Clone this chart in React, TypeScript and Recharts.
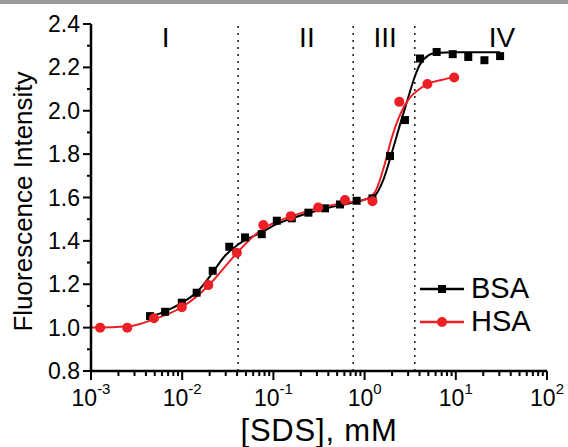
import React from 'react';
import {
  ComposedChart,
  Line,
  Scatter,
  XAxis,
  YAxis,
  ReferenceLine,
  ReferenceDot,
} from 'recharts';

// measured points
const bsaConc = [0.00444, 0.0065, 0.0099, 0.0144, 0.0216, 0.0328, 0.0489, 0.0745, 0.109, 0.159, 0.242, 0.368, 0.537, 0.818, 1.22, 1.9, 2.77, 4.05, 6.17, 9.25, 13.7, 20.6, 30.6];
const bsaValues = [1.053, 1.073, 1.115, 1.161, 1.262, 1.373, 1.416, 1.431, 1.493, 1.504, 1.53, 1.55, 1.568, 1.585, 1.596, 1.791, 1.957, 2.241, 2.271, 2.261, 2.248, 2.233, 2.252];
const hsaConc = [0.00126, 0.0025, 0.0049, 0.0099, 0.0193, 0.0397, 0.0776, 0.155, 0.31, 0.61, 1.22, 2.4, 4.88, 9.6];
const hsaValues = [1.0, 1.0, 1.043, 1.094, 1.196, 1.345, 1.473, 1.514, 1.554, 1.588, 1.583, 2.041, 2.123, 2.153];

// fitted curves
const bsaFitConc = [0.00444, 0.0065, 0.01, 0.015, 0.02, 0.03, 0.04, 0.05, 0.075, 0.1, 0.15, 0.25, 0.4, 0.6, 1.0, 1.3, 1.6, 2.0, 2.5, 3.0, 3.5, 4.0, 5.0, 6.0, 10, 30.6];
const bsaFitValues = [1.05, 1.075, 1.115, 1.17, 1.235, 1.335, 1.38, 1.405, 1.44, 1.47, 1.5, 1.53, 1.553, 1.568, 1.59, 1.61, 1.68, 1.81, 1.95, 2.06, 2.15, 2.21, 2.255, 2.266, 2.27, 2.27];
const hsaFitConc = [0.001, 0.0025, 0.005, 0.01, 0.02, 0.03, 0.04, 0.06, 0.08, 0.15, 0.3, 0.6, 1.0, 1.3, 1.6, 2.0, 2.5, 3.0, 4.0, 5.0, 7.0, 9.6];
const hsaFitValues = [1.0, 1.005, 1.04, 1.095, 1.2, 1.285, 1.345, 1.42, 1.46, 1.51, 1.55, 1.575, 1.59, 1.625, 1.73, 1.88, 1.99, 2.05, 2.1, 2.125, 2.142, 2.155];

const regionBounds = [0.041, 0.75, 3.55];
const regionLabels = ['I', 'II', 'III', 'IV'];
const regionLabelConc = [0.0066, 0.233, 1.68, 32];

const xMajorTicks = [0.001, 0.01, 0.1, 1, 10, 100];
const yTicks = [0.8, 0.9, 1.0, 1.1, 1.2, 1.3, 1.4, 1.5, 1.6, 1.7, 1.8, 1.9, 2.0, 2.1, 2.2, 2.3, 2.4];

const RED = '#ec1f24';
const FONT = '"Liberation Sans", Arial, sans-serif';

const toPoints = (xs: number[], ys: number[]) => xs.map((x, i) => ({ x, y: ys[i] }));

const bsaData = toPoints(bsaConc, bsaValues);
const hsaData = toPoints(hsaConc, hsaValues);
const bsaFit = toPoints(bsaFitConc, bsaFitValues);
const hsaFit = toPoints(hsaFitConc, hsaFitValues);

// minor ticks 2..9 in each decade
const xTicks: number[] = [];
xMajorTicks.forEach((m, i) => {
  xTicks.push(m);
  if (i < xMajorTicks.length - 1) {
    for (let k = 2; k <= 9; k++) xTicks.push(+(m * k).toPrecision(3));
  }
});

const XTick = (props: any) => {
  const { x, y, payload } = props;
  const v = payload.value;
  const exp = Math.round(Math.log10(v));
  const major = xMajorTicks.includes(v);
  return (
    <g>
      <line x1={x} x2={x} y1={y} y2={y + (major ? 9 : 5)} stroke="#000" strokeWidth={2} />
      {major && (
        <text x={x} y={y + 35} textAnchor="middle" fontSize={23} fontFamily={FONT} fill="#000">
          10
          <tspan dy={-12} fontSize={15}>{exp}</tspan>
        </text>
      )}
    </g>
  );
};

const YTick = (props: any) => {
  const { x, y, payload } = props;
  const v = payload.value;
  const major = Math.round(v * 10) % 2 === 0;
  return (
    <g>
      <line x1={x} x2={x - (major ? 8 : 4)} y1={y} y2={y} stroke="#000" strokeWidth={2} />
      {major && (
        <text x={x - 11} y={y + 8} textAnchor="end" fontSize={23} fontFamily={FONT} fill="#000">
          {v.toFixed(1)}
        </text>
      )}
    </g>
  );
};

const SquareDot = (props: any) => {
  const { cx, cy } = props;
  return <rect x={cx - 4} y={cy - 4} width={8} height={8} fill="#000" />;
};

const RoundDot = (props: any) => {
  const { cx, cy } = props;
  return <circle cx={cx} cy={cy} r={5} fill={RED} />;
};

const legendItems = [
  { name: 'BSA', color: '#000', square: true },
  { name: 'HSA', color: RED, square: false },
];

const LegendBox = () => (
  <div style={{ position: 'absolute', left: 418, top: 272, fontFamily: FONT }}>
    {legendItems.map((it) => (
      <div key={it.name} style={{ display: 'flex', alignItems: 'center', height: 33 }}>
        <svg width={48} height={20}>
          <line x1={2} x2={46} y1={10} y2={10} stroke={it.color} strokeWidth={2.5} />
          {it.square ? (
            <rect x={20} y={6} width={8} height={8} fill={it.color} />
          ) : (
            <circle cx={24} cy={10} r={5} fill={it.color} />
          )}
        </svg>
        <span style={{ fontSize: 29, marginLeft: 5, color: '#000', lineHeight: '29px' }}>{it.name}</span>
      </div>
    ))}
  </div>
);

export default function App() {
  return (
    <div style={{ position: 'absolute', left: 0, top: 0, width: 568, height: 447, background: '#fff', fontFamily: FONT }}>
      {/* thin grey strip along the top edge of the original image */}
      <div style={{ position: 'absolute', left: 0, top: 0, width: 568, height: 4, background: '#9a9a9a' }} />
      <ComposedChart width={568} height={447} margin={{ top: 24, right: 21, left: 0, bottom: 0 }}>
        <XAxis
          dataKey="x"
          type="number"
          scale="log"
          domain={[0.001, 100]}
          ticks={xTicks}
          interval={0}
          allowDataOverflow
          height={76}
          tickLine={false}
          tickSize={0}
          tickMargin={0}
          tick={<XTick />}
          axisLine={{ stroke: '#000', strokeWidth: 2.5 }}
          label={({ viewBox }: any) => (
            <text
              x={viewBox.x + viewBox.width / 2}
              y={viewBox.y + 70}
              textAnchor="middle"
              fontSize={31}
              letterSpacing={0.8}
              fontFamily={FONT}
              fill="#000"
            >
              [SDS], mM
            </text>
          )}
        />
        <YAxis
          dataKey="y"
          type="number"
          domain={[0.8, 2.4]}
          ticks={yTicks}
          interval={0}
          allowDataOverflow
          width={91}
          tickLine={false}
          tickSize={0}
          tickMargin={0}
          tick={<YTick />}
          axisLine={{ stroke: '#000', strokeWidth: 2.5 }}
          label={({ viewBox }: any) => {
            const cx = viewBox.x + 32;
            const cy = viewBox.y + viewBox.height / 2 + 4;
            return (
              <text
                x={cx}
                y={cy}
                transform={`rotate(-90 ${cx} ${cy})`}
                textAnchor="middle"
                fontSize={26}
                fontFamily={FONT}
                fill="#000"
              >
                Fluorescence Intensity
              </text>
            );
          }}
        />
        {regionBounds.map((b) => (
          <ReferenceLine key={b} x={b} stroke="#222" strokeWidth={1.6} strokeDasharray="2 5" />
        ))}
        {regionLabels.map((l, i) => (
          <ReferenceDot
            key={l}
            x={regionLabelConc[i]}
            y={2.34}
            r={0}
            fill="none"
            stroke="none"
            label={{ value: l, position: 'center', fontSize: 28, fill: '#000', fontFamily: FONT }}
          />
        ))}
        <Line data={bsaFit} dataKey="y" type="monotone" stroke="#000" strokeWidth={2} dot={false} isAnimationActive={false} legendType="none" />
        <Line data={hsaFit} dataKey="y" type="monotone" stroke={RED} strokeWidth={2} dot={false} isAnimationActive={false} legendType="none" />
        <Scatter data={bsaData} dataKey="y" name="BSA" shape={<SquareDot />} isAnimationActive={false} />
        <Scatter data={hsaData} dataKey="y" name="HSA" shape={<RoundDot />} isAnimationActive={false} />
      </ComposedChart>
      <LegendBox />
    </div>
  );
}
